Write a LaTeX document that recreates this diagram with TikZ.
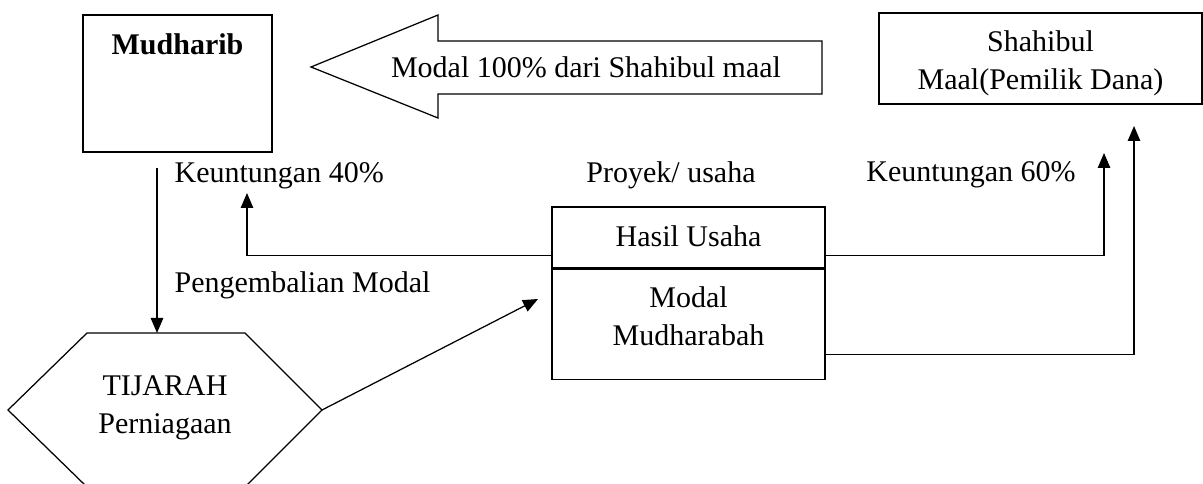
\documentclass[tikz,border=0pt]{standalone}
\usepackage{fontspec}
\setmainfont{Liberation Serif}
\usetikzlibrary{arrows.meta, positioning}

\begin{document}
\fontsize{12}{15}\selectfont
\begin{tikzpicture}[x=0.4pt, y=-0.4pt, line width=0.5pt,
        flow/.style={-{Triangle[length=6pt,width=5pt]}},
        box/.style={draw, inner sep=0pt},
        lbl/.style={anchor=base west, inner sep=0pt}]
    \useasboundingbox (0,0) rectangle (1203,484);

    % Boxes
    \node[box, minimum width=75.6pt, minimum height=54.8pt] (mudharib) at (177.5,83.5) {};
    \node[font=\bfseries, anchor=base] (mudharibtxt) at (177.5,55) {Mudharib};
    \node[box, minimum width=129.2pt, minimum height=36.4pt] (shahibul) at (1040.5,58.5) {};
    \node[align=center] (shahibultxt) at (1040.5,63.4) {Shahibul\\Maal(Pemilik Dana)};
    \node[box, minimum width=109.2pt, minimum height=24.4pt] (hasil) at (688.5,237.5) {};
    \node[anchor=base] (hasiltxt) at (688.5,247) {Hasil Usaha};
    \node[box, minimum width=109.2pt, minimum height=44pt, below=0pt of hasil] (modal) {};
    \node[align=center] (modaltxt) at (688.5,316) {Modal\\Mudharabah};

    % Big arrow from Shahibul maal
    \draw (311,67) -- (438,15) -- (438,41) -- (822,41) -- (822,94) -- (438,94) -- (438,118) -- cycle;
    \node[anchor=base] (modal100) at (586,78) {Modal 100\% dari Shahibul maal};

    % Hexagon
    \draw (87,333) -- (245,333) -- (322,410) -- (245,487) -- (87,487) -- (8,410) -- cycle;
    \node[align=center] (tijarah) at (165,408) {TIJARAH\\Perniagaan};
    \coordinate (hexT) at (157,333);
    \coordinate (hexR) at (322,410);

    % Connectors
    \coordinate (mudharibout) at (157,168);
    \coordinate (k40) at (247,193);
    \coordinate (k60) at (1104,153);
    \coordinate (shahibulin) at (1134,126);
    \coordinate (modalin) at (538,299);
    \draw[flow] (mudharibout) -- (hexT);
    \draw[flow] ([yshift=5.2pt]hasil.south west) -| (k40);
    \draw[flow] ([yshift=5.2pt]hasil.south east) -| (k60);
    \draw[flow] ([yshift=10pt]modal.south east) -| (shahibulin);
    \draw[flow] (hexR) -- (modalin);

    % Labels
    \node[lbl] (k40txt) at (174,183) {Keuntungan 40\%};
    \node[anchor=base] (proyek) at (671,183) {Proyek/ usaha};
    \node[anchor=base] (k60txt) at (971,182) {Keuntungan 60\%};
    \node[lbl] (kembali) at (174,293) {Pengembalian Modal};
\end{tikzpicture}
\end{document}
